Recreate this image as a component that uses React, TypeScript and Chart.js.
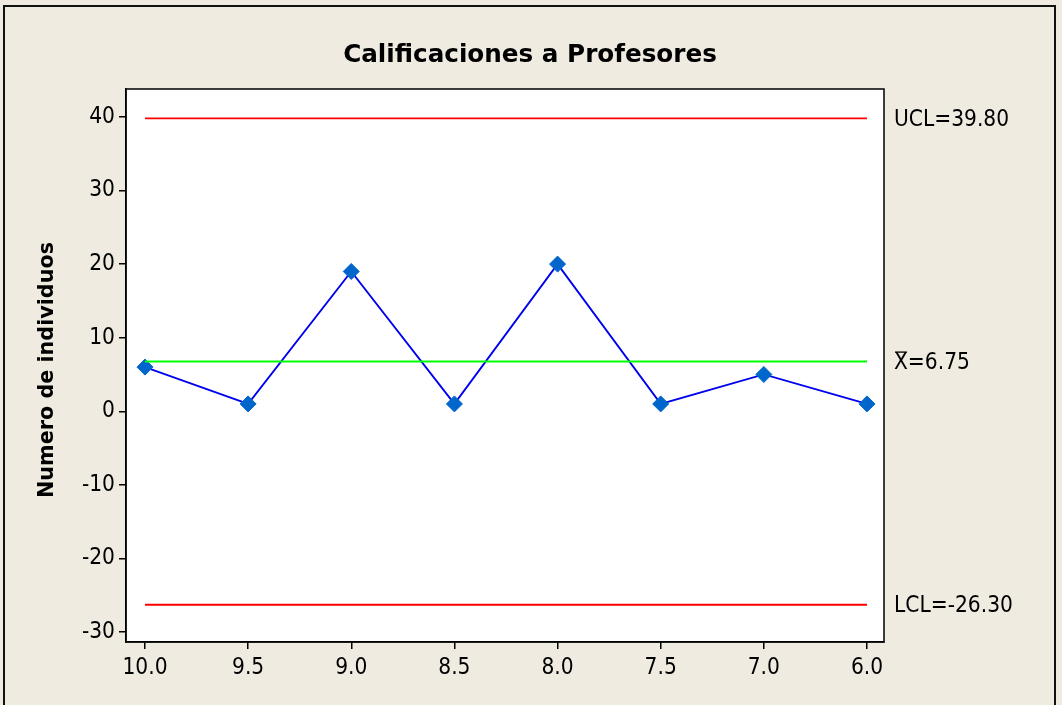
import React, { useEffect, useRef } from "react";
import { Chart, registerables } from "chart.js";

Chart.register(...registerables);

const categories = ["10.0", "9.5", "9.0", "8.5", "8.0", "7.5", "7.0", "6.0"];
const counts = [6, 1, 19, 1, 20, 1, 5, 1];
const ucl = 39.8;
const mean = 6.75;
const lcl = -26.3;
const yTicks = [-30, -20, -10, 0, 10, 20, 30, 40];
const titleText = "Calificaciones a Profesores";
const yTitleText = "Numero de individuos";

const BG = "#EFEBE1";
const FONT = "'DejaVu Sans', Verdana, sans-serif";
const TFONT = "'DejaVu Sans Condensed', 'DejaVu Sans', sans-serif";
const TSIZE = 22.5;

function fitFont(ctx: CanvasRenderingContext2D, text: string, weight: string, base: number, target: number) {
  ctx.font = `${weight} ${base}px ${FONT}`;
  const w = ctx.measureText(text).width;
  const size = (base * target) / w;
  return `${weight} ${size.toFixed(2)}px ${FONT}`;
}

const decorPlugin = {
  id: "decor",
  beforeDraw(chart: any) {
    const { ctx, width, height, chartArea } = chart;
    ctx.save();
    ctx.fillStyle = BG;
    ctx.fillRect(0, 0, width, height);
    ctx.fillStyle = "#FFFFFF";
    ctx.fillRect(chartArea.left, chartArea.top, chartArea.right - chartArea.left, chartArea.bottom - chartArea.top);
    ctx.strokeStyle = "#111";
    ctx.lineWidth = 2;
    ctx.strokeRect(4, 6, 1051, 720);
    ctx.restore();
  },
  afterDraw(chart: any) {
    const { ctx, chartArea, scales } = chart;
    const y = scales.y;
    ctx.save();
    ctx.strokeStyle = "#000";
    ctx.lineWidth = 1.5;
    ctx.strokeRect(chartArea.left, chartArea.top, chartArea.right - chartArea.left, chartArea.bottom - chartArea.top);

    ctx.fillStyle = "#000";
    ctx.textAlign = "center";
    ctx.textBaseline = "middle";
    ctx.font = fitFont(ctx, titleText, "bold", 26, 374);
    ctx.fillText(titleText, 530, 56);

    ctx.save();
    ctx.translate(48, 370);
    ctx.rotate(-Math.PI / 2);
    ctx.font = fitFont(ctx, yTitleText, "bold", 20, 256);
    ctx.fillText(yTitleText, 0, 0);
    ctx.restore();

    ctx.textAlign = "left";
    ctx.font = `${TSIZE}px ${TFONT}`;
    const lx = 894;
    const dy = 1.5;
    ctx.fillText(`UCL=${ucl.toFixed(2)}`, lx, y.getPixelForValue(ucl) + dy);
    ctx.fillText(`LCL=${lcl.toFixed(2)}`, lx, y.getPixelForValue(lcl) + dy);
    const my = y.getPixelForValue(mean) + dy;
    ctx.fillText(`X=${mean.toFixed(2)}`, lx, my);
    const xw = ctx.measureText("X").width;
    ctx.lineWidth = 1.3;
    ctx.beginPath();
    ctx.moveTo(lx + 1, my - 11);
    ctx.lineTo(lx + xw - 1, my - 11);
    ctx.stroke();
    ctx.restore();
  },
};

export default function App() {
  const ref = useRef<HTMLCanvasElement | null>(null);
  useEffect(() => {
    document.body.style.margin = "0";
    const canvas = ref.current!;
    const pts = counts.map((v, i) => ({ x: i, y: v }));
    const flat = (v: number) => categories.map((_, i) => ({ x: i, y: v }));
    const chart = new Chart(canvas, {
      type: "line",
      data: {
        datasets: [
          { data: flat(ucl), borderColor: "#FF0000", borderWidth: 1.8, pointRadius: 0 },
          { data: flat(lcl), borderColor: "#FF0000", borderWidth: 1.8, pointRadius: 0 },
          { data: flat(mean), borderColor: "#00FF00", borderWidth: 2, pointRadius: 0 },
          {
            data: pts,
            borderColor: "#0000EE",
            borderWidth: 1.8,
            pointStyle: "rectRot",
            pointRadius: 8,
            pointBackgroundColor: "#0066CC",
            pointBorderColor: "#0066CC",
            pointBorderWidth: 1,
          },
        ],
      },
      options: {
        animation: false,
        responsive: false,
        maintainAspectRatio: false,
        layout: { padding: { left: 0, top: 89, right: 178, bottom: 0 } },
        plugins: { legend: { display: false }, tooltip: { enabled: false }, title: { display: false } },
        scales: {
          x: {
            type: "linear",
            min: -0.184,
            max: 7.165,
            afterBuildTicks: (s: any) => {
              s.ticks = categories.map((_, i) => ({ value: i }));
            },
            afterFit: (s: any) => {
              s.height = 63;
            },
            ticks: {
              color: "#000",
              font: { family: TFONT, size: TSIZE },
              padding: 6,
              maxRotation: 0,
              autoSkip: false,
              callback: (v: any) => categories[Math.round(Number(v))] ?? "",
            },
            grid: { drawOnChartArea: false, drawTicks: true, tickLength: 7, color: "#000", lineWidth: 1.5 },
            border: { display: true, color: "#000", width: 1.5 },
          },
          y: {
            type: "linear",
            min: -31.36,
            max: 43.8,
            afterBuildTicks: (s: any) => {
              s.ticks = yTicks.map((v) => ({ value: v }));
            },
            afterFit: (s: any) => {
              s.width = 126;
            },
            ticks: {
              color: "#000",
              font: { family: TFONT, size: TSIZE },
              padding: 4,
              autoSkip: false,
              callback: (v: any) => String(v),
            },
            grid: { drawOnChartArea: false, drawTicks: true, tickLength: 7, color: "#000", lineWidth: 1.5 },
            border: { display: true, color: "#000", width: 1.5 },
          },
        },
      },
      plugins: [decorPlugin],
    } as any);
    return () => chart.destroy();
  }, []);
  return (
    <div style={{ position: "absolute", left: 0, top: 0, width: 1062, height: 705, background: BG }}>
      <canvas ref={ref} width={1062} height={705} style={{ display: "block", width: 1062, height: 705 }} />
    </div>
  );
}
